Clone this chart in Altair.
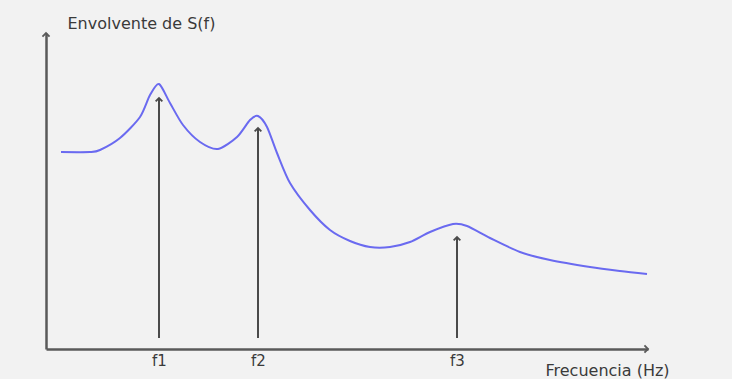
import altair as alt
import pandas as pd

# Envelope curve (frequency axis units, envelope units)
freq = [15, 44, 54, 74, 94, 104, 113, 124, 137, 154, 172, 191, 204, 212, 221,
        231, 244, 264, 284, 304, 324, 344, 364, 384, 407, 421, 444, 474, 504,
        544, 574, 601]
env = [197, 197, 199, 211, 232, 254, 265, 246, 224, 207, 200, 212, 229, 233,
       222, 196, 166, 139, 119, 108, 102, 102, 107, 117, 125, 123, 111, 97, 89,
       82, 78, 75]

# Spectral lines (arrows) at the resonance frequencies
peak_freq = [113, 212, 411]
peak_tip = [251, 221, 112]
peak_base = [11, 11, 11]
peak_labels = ["f1", "f2", "f3"]

x_max = 602
y_max = 316

FONT = "DejaVu Sans"
AXIS_COLOR = "#5a5a5a"
ARROW_COLOR = "#4a4a4a"
CURVE_COLOR = "#6a6af0"
TEXT_COLOR = "#3a3a3a"

curve = pd.DataFrame({"f": freq, "e": env})
peaks = pd.DataFrame({"f": peak_freq, "tip": peak_tip, "base": peak_base,
                      "label": peak_labels})
axis_heads = pd.DataFrame({"f": [0, x_max], "e": [y_max, 0], "angle": [0, 90]})

label_expr = " : ".join(
    f"datum.value == {v} ? '{t}'" for v, t in zip(peak_freq, peak_labels)
) + " : ''"

xs = alt.Scale(domain=[0, x_max], nice=False, zero=False)
ys = alt.Scale(domain=[0, y_max], nice=False, zero=False)

x_axis = alt.Axis(
    values=peak_freq, labelExpr=label_expr, ticks=False, grid=False,
    domain=True, domainColor=AXIS_COLOR, domainWidth=2.5,
    labelFont=FONT, labelFontSize=15, labelColor=TEXT_COLOR, labelPadding=4,
    title="Frecuencia (Hz)", titleX=499, titleY=21, titleAlign="left",
    titleBaseline="middle", titleFont=FONT, titleFontSize=16,
    titleFontWeight="normal", titleColor=TEXT_COLOR,
)
y_axis = alt.Axis(
    labels=False, ticks=False, grid=False, domain=True,
    domainColor=AXIS_COLOR, domainWidth=2.5,
    title="Envolvente de S(f)", titleAngle=0, titleX=21, titleY=-10,
    titleAlign="left", titleBaseline="middle", titleFont=FONT,
    titleFontSize=16, titleFontWeight="normal", titleColor=TEXT_COLOR,
)

line = alt.Chart(curve).mark_line(
    color=CURVE_COLOR, strokeWidth=2, interpolate="cardinal", tension=0.2
).encode(
    x=alt.X("f:Q", scale=xs, axis=x_axis),
    y=alt.Y("e:Q", scale=ys, axis=y_axis),
)

rules = alt.Chart(peaks).mark_rule(color=ARROW_COLOR, strokeWidth=2).encode(
    x=alt.X("f:Q", scale=xs),
    y=alt.Y("base:Q", scale=ys),
    y2="tip:Q",
)

heads = alt.Chart(peaks).mark_point(
    shape="M-1,1L0,0L1,1", filled=False, size=45, strokeWidth=1.8,
    color=ARROW_COLOR, opacity=1,
).encode(
    x=alt.X("f:Q", scale=xs),
    y=alt.Y("tip:Q", scale=ys),
)

ax_heads = alt.Chart(axis_heads).mark_point(
    shape="M-1,1L0,0L1,1", filled=False, size=50, strokeWidth=1.8,
    color=AXIS_COLOR, opacity=1, clip=False,
).encode(
    x=alt.X("f:Q", scale=xs),
    y=alt.Y("e:Q", scale=ys),
    angle=alt.Angle("angle:Q", scale=None),
)

chart = alt.layer(rules, heads, line, ax_heads).properties(
    width=x_max, height=y_max,
    background="#f2f2f2",
    padding={"left": 46, "top": 33, "right": 84, "bottom": 30},
    autosize=alt.AutoSizeParams(type="none"),
).configure_view(stroke=None)

chart.save("out.html", embed_options={"renderer": "svg", "actions": False})
